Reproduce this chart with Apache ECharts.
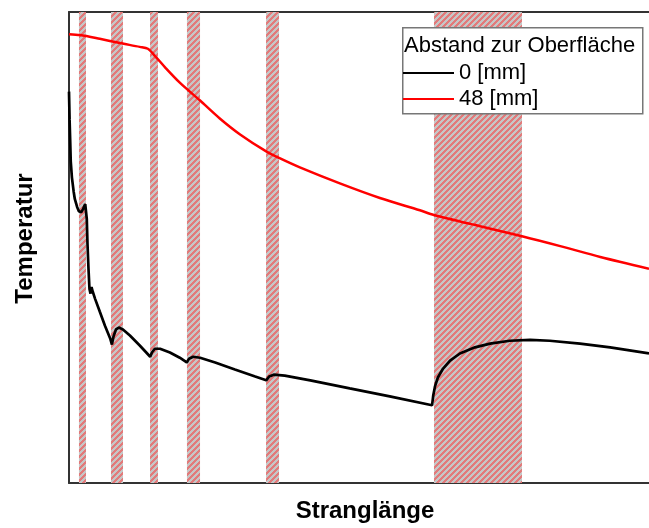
<!DOCTYPE html>
<html><head><meta charset="utf-8">
<script src="https://cdn.jsdelivr.net/npm/echarts@6/dist/echarts.min.js"></script>
<style>html,body{margin:0;padding:0;background:#fff}#c{width:649px;height:528px}</style>
</head><body><div id="c"></div>
<script>
// ---- data (arbitrary units 0..100) ----
const seriesNames = ['0 [mm]', '48 [mm]'];
const legendTitle = 'Abstand zur Oberfläche';
const xName = 'Stranglänge';
const yName = 'Temperatur';

const blackX = [0, 0.1, 0.2, 0.3, 0.5, 0.8, 1.0, 1.4, 1.7, 2.1, 2.4, 2.8, 2.9, 3.07, 3.19, 3.36, 3.53, 3.71, 3.88, 4.1,
  4.5, 5.3, 6.2, 7.1, 7.4, 7.67, 8.1, 8.6, 9.3, 10.5, 12.2, 14.0, 14.3, 14.8, 15.7, 17.4, 19.1, 20.3, 20.7, 21.4,
  22.6, 25.2, 28.6, 32.1, 34.0, 34.5, 35.3, 37.2, 41.6, 48.4, 55.3, 62.6, 62.8, 63.1, 63.6, 64.5, 65.7, 67.4, 70.0,
  72.6, 76.0, 79.5, 82.9, 88.1, 93.3, 100];
const blackY = [83.1, 77.2, 72.9, 68.3, 64.9, 61.9, 60.3, 58.6, 57.7, 57.5, 58.1, 59.2, 59.6, 56.0, 50.7, 45.5, 41.2, 40.2, 41.6, 40.6,
  39.1, 36.4, 33.4, 30.7, 29.4, 31.1, 32.6, 33.0, 32.6, 31.3, 29.2, 26.8, 27.7, 28.5, 28.5, 27.7, 26.6, 25.6, 26.4, 26.8,
  26.6, 25.6, 24.1, 22.6, 21.8, 22.6, 23.0, 22.8, 21.8, 20.1, 18.4, 16.5, 18.6, 20.5, 22.4, 24.3, 26.0, 27.5, 28.8,
  29.6, 30.2, 30.4, 30.2, 29.6, 28.8, 27.5];

const redX = [0, 1.9, 5.3, 8.8, 12.2, 13.6, 14.8, 16.6, 19.1, 22.6, 26.0, 29.5, 34.0, 36.4, 39.8, 46.7, 53.6, 60.5, 62.9, 70.9, 78.1, 84.7, 91.6, 100];
const redY = [95.3, 95.1, 94.3, 93.4, 92.6, 92.2, 90.7, 88.2, 85.0, 81.2, 77.4, 74.0, 70.4, 68.9, 67.0, 63.6, 60.5, 57.9, 56.9, 54.5, 52.4, 50.3, 48.0, 45.5];

const bandStart = [1.72, 7.24, 13.97, 20.34, 33.97, 62.93];
const bandEnd   = [2.93, 9.31, 15.34, 22.59, 36.21, 78.10];

// ---- hatch pattern ----
const P = 6;
const pc = document.createElement('canvas'); pc.width = P; pc.height = P;
const g = pc.getContext('2d');
g.fillStyle = '#c6c6c6'; g.fillRect(0, 0, P, P);
g.fillStyle = '#e27a7a';
for (let x = 0; x < P; x++) for (let y = 0; y < P; y++) if (((x + y) % P) < 3) g.fillRect(x, y, 1, 1);

const zip = (xs, ys) => xs.map((x, i) => [x, ys[i]]);
const FONT = '"Liberation Sans", Arial, sans-serif';

const chart = echarts.init(document.getElementById('c'), null, {renderer: 'canvas'});
chart.setOption({
  animation: false,
  backgroundColor: '#fff',
  grid: {left: 69, top: 12, right: 0, bottom: 43},
  title: {
    text: legendTitle, left: 404, top: 35, z: 20, padding: 0,
    textStyle: {fontFamily: FONT, fontSize: 22, fontWeight: 'normal', color: '#000'}
  },
  legend: {
    orient: 'vertical', left: 403, top: 62, z: 20,
    itemWidth: 51, itemHeight: 2, itemGap: 4, padding: 0,
    data: seriesNames.map(n => ({name: n, icon: 'rect'})),
    textStyle: {fontFamily: FONT, fontSize: 22, color: '#000', lineHeight: 22}
  },
  graphic: [{
    type: 'rect', z: 15, left: 402, top: 27,
    shape: {width: 240, height: 86},
    style: {fill: '#fff', stroke: '#777', lineWidth: 1.5}
  }],
  xAxis: [{
    type: 'value', min: 0, max: 100,
    name: xName, nameLocation: 'middle', nameGap: 16,
    nameTextStyle: {fontFamily: FONT, fontSize: 24, fontWeight: 'bold', color: '#000', padding: [0, 0, 0, 12]},
    axisLine: {show: true, lineStyle: {color: '#333', width: 2}},
    axisTick: {show: false}, axisLabel: {show: false}, splitLine: {show: false}
  }, {
    type: 'value', min: 0, max: 100, position: 'top',
    axisLine: {show: true, lineStyle: {color: '#333', width: 2}},
    axisTick: {show: false}, axisLabel: {show: false}, splitLine: {show: false}
  }],
  yAxis: {
    type: 'value', min: 0, max: 100,
    name: yName, nameLocation: 'middle', nameGap: 32,
    nameTextStyle: {fontFamily: FONT, fontSize: 24, fontWeight: 'bold', color: '#000', padding: [0, 0, 0, 18]},
    axisLine: {show: true, lineStyle: {color: '#333', width: 2}},
    axisTick: {show: false}, axisLabel: {show: false}, splitLine: {show: false}
  },
  series: [{
    type: 'line', name: '__bands', data: [], z: 1, silent: true,
    markArea: {
      silent: true,
      itemStyle: {color: {image: pc, repeat: 'repeat'}},
      data: bandStart.map((s, i) => [{xAxis: s}, {xAxis: bandEnd[i]}])
    }
  }, {
    type: 'line', name: seriesNames[0], data: zip(blackX, blackY), symbol: 'none', z: 3,
    lineStyle: {color: '#000', width: 2.7}, itemStyle: {color: '#000'}
  }, {
    type: 'line', name: seriesNames[1], data: zip(redX, redY), symbol: 'none', z: 3, smooth: 0.3,
    lineStyle: {color: '#ff0000', width: 2.5}, itemStyle: {color: '#ff0000'}
  }]
});
</script>
</body></html>
